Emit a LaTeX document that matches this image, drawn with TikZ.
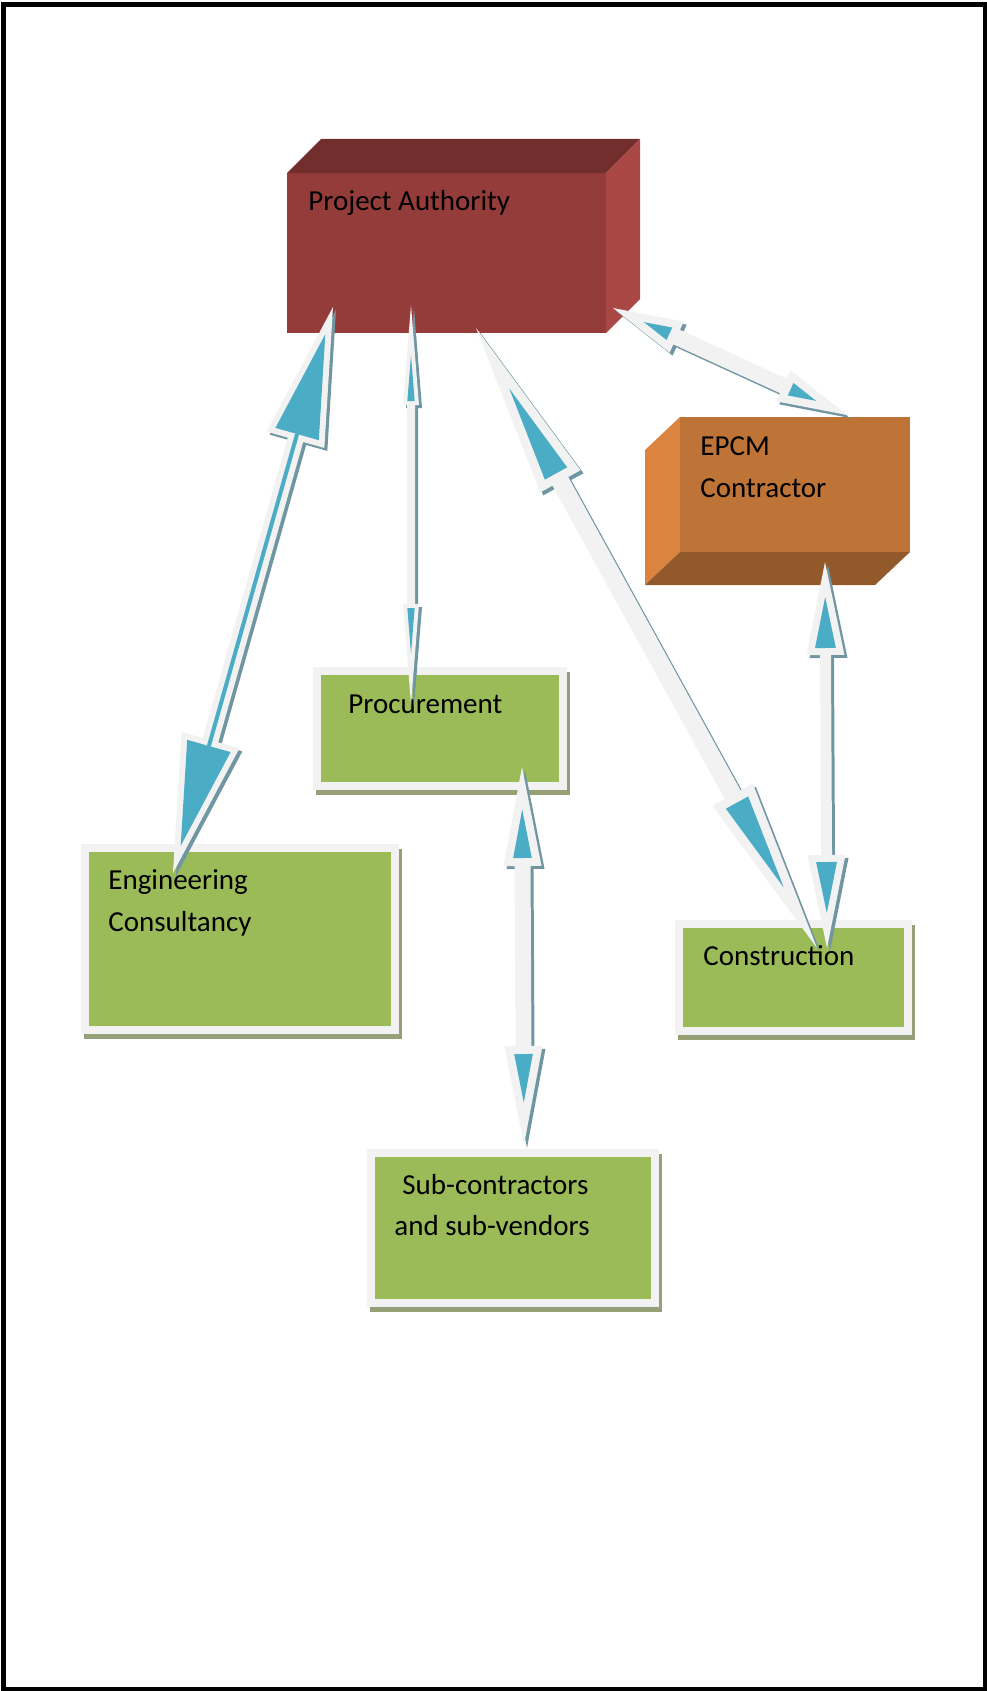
\documentclass[tikz,border=0pt]{standalone}
\usepackage{fontspec}
\setmainfont{Carlito}
\usetikzlibrary{calc}

\definecolor{paFront}{RGB}{148,60,58}
\definecolor{paTop}{RGB}{114,46,45}
\definecolor{paSide}{RGB}{168,71,68}
\definecolor{epFront}{RGB}{190,115,55}
\definecolor{epSide}{RGB}{218,132,63}
\definecolor{epBottom}{RGB}{146,90,42}
\definecolor{boxgreen}{RGB}{155,187,89}
\definecolor{rimgray}{RGB}{242,242,242}
\definecolor{boxshade}{RGB}{150,160,118}
\definecolor{arrowblue}{RGB}{75,172,198}
\definecolor{arrowshade}{RGB}{112,150,162}

% double block arrow: tips #1 and #2, head length #3, head width #4,
% shaft width #5, rim #6 (all in px, 1px = 0.5pt)
\newcommand{\blockarrow}[6]{%
  \pgfmathsetmacro{\hl}{#3/2}
  \pgfmathsetmacro{\hw}{#4/4}
  \pgfmathsetmacro{\sw}{#5/4}
  \pgfmathsetmacro{\tip}{(#6/2)/sin(atan((#4/2)/#3))}
  \pgfmathsetmacro{\bl}{(#3-#6)/2}
  \pgfmathsetmacro{\iw}{(\bl-\tip)*#4/(2*#3)}
  \pgfmathsetmacro{\lw}{(#5-2*#6)/2}
  \coordinate (h1) at ($(#1)!\hl pt!(#2)$);
  \coordinate (h2) at ($(#2)!\hl pt!(#1)$);
  \coordinate (l1) at ($(h1)!\hw pt!90:(#2)$);
  \coordinate (r1) at ($(h1)!\hw pt!-90:(#2)$);
  \coordinate (sl1) at ($(h1)!\sw pt!90:(#2)$);
  \coordinate (sr1) at ($(h1)!\sw pt!-90:(#2)$);
  \coordinate (l2) at ($(h2)!\hw pt!-90:(#1)$);
  \coordinate (r2) at ($(h2)!\hw pt!90:(#1)$);
  \coordinate (sl2) at ($(h2)!\sw pt!-90:(#1)$);
  \coordinate (sr2) at ($(h2)!\sw pt!90:(#1)$);
  \fill[arrowshade, transform canvas={shift={(1.5pt,-1.5pt)}}] (#1) -- (l1) -- (sl1) -- (sl2) -- (l2) -- (#2)
     -- (r2) -- (sr2) -- (sr1) -- (r1) -- cycle;
  \fill[rimgray] (#1) -- (l1) -- (sl1) -- (sl2) -- (l2) -- (#2)
     -- (r2) -- (sr2) -- (sr1) -- (r1) -- cycle;
  \coordinate (i1) at ($(#1)!\tip pt!(#2)$);
  \coordinate (i2) at ($(#2)!\tip pt!(#1)$);
  \coordinate (b1) at ($(#1)!\bl pt!(#2)$);
  \coordinate (b2) at ($(#2)!\bl pt!(#1)$);
  \fill[arrowblue] (i1) -- ($(b1)!\iw pt!90:(#2)$) -- ($(b1)!\iw pt!-90:(#2)$) -- cycle;
  \fill[arrowblue] (i2) -- ($(b2)!\iw pt!90:(#1)$) -- ($(b2)!\iw pt!-90:(#1)$) -- cycle;
  \ifdim\lw pt>0pt \draw[arrowblue, line width=\lw pt] (b1) -- (b2);\fi
}

\begin{document}
\begin{tikzpicture}[x=0.5pt, y=-0.5pt,
  cube/.style={rectangle, inner sep=0pt, outer sep=0pt, draw=none},
  greenbox/.style={rectangle, fill=boxgreen, draw=rimgray, line width=4pt, inner sep=0pt, outer sep=0pt,
    preaction={fill=boxshade, draw=boxshade, line width=4pt, transform canvas={shift={(1.5pt,-2.5pt)}}}},
  lbl/.style={anchor=base west, inner sep=0pt, align=left, font=\fontsize{14.5pt}{20.75pt}\selectfont}]
	\useasboundingbox (0,0) rectangle (986,1691);
	\draw[line width=2.5pt] (3,4.5) rectangle (985.5,1689.5);

	% project authority
	\node[cube, fill=paFront, minimum width=159.5pt, minimum height=80pt] (pa) at (446.5,253) {};
	\fill[paTop] (pa.north west) -- ++(34,-34) -- ($(pa.north east)+(34,-34)$) -- (pa.north east) -- cycle;
	\fill[paSide] (pa.north east) -- ++(34,-34) -- ($(pa.south east)+(34,-34)$) -- (pa.south east) -- cycle;
	\node[lbl] (pa-txt) at (308,210) {Project Authority};

	% epcm contractor
	\node[cube, fill=epFront, minimum width=115pt, minimum height=67.5pt] (epcm) at (795,484.5) {};
	\fill[epSide] (epcm.north west) -- ++(-35,33) -- ($(epcm.south west)+(-35,33)$) -- (epcm.south west) -- cycle;
	\fill[epBottom] (epcm.south west) -- ++(-35,33) -- ($(epcm.south east)+(-35,33)$) -- (epcm.south east) -- cycle;
	\node[lbl] (epcm-txt) at (700,497) {EPCM\\Contractor};

	% green boxes
	\node[greenbox, minimum width=123pt, minimum height=57.5pt] (proc) at (440,728.5) {};
	\node[lbl] (proc-txt) at (348,713) {Procurement};
	\node[greenbox, minimum width=155pt, minimum height=91pt] (eng) at (240,939) {};
	\node[lbl] (eng-txt) at (108,931) {Engineering\\Consultancy};
	\node[greenbox, minimum width=114.5pt, minimum height=53.5pt] (cons) at (793.5,977.5) {};
	\node[lbl] (cons-txt) at (703,965) {Construction};
	\node[greenbox, minimum width=142pt, minimum height=75pt] (sub) at (513,1228) {};
	\node[lbl] (sub-txt) at (402,1194) {Sub-contractors};
	\node[lbl] (sub-txt2) at (394,1235) {and sub-vendors};

	% arrow ends
	\coordinate (pa-eng) at (333,307);   \coordinate (eng-pa) at (173,873);
	\coordinate (pa-proc) at (411,305);  \coordinate (proc-pa) at (411,704);
	\coordinate (pa-cons) at (476,328);  \coordinate (cons-pa) at (817,948);
	\coordinate (pa-epcm) at (613,308);  \coordinate (epcm-pa) at (847,415);
	\coordinate (epcm-cons) at (825,562); \coordinate (cons-epcm) at (827,948);
	\coordinate (proc-sub) at (522,767); \coordinate (sub-proc) at (524,1145);

	\blockarrow{pa-eng}{eng-pa}{138}{60}{16}{6}
	\blockarrow{pa-proc}{proc-pa}{100}{16}{8}{4}
	\blockarrow{pa-cons}{cons-pa}{175}{46}{18}{9}
	\blockarrow{pa-epcm}{epcm-pa}{70}{34}{16}{8}
	\blockarrow{epcm-cons}{cons-epcm}{93}{38}{11}{7}
	\blockarrow{proc-sub}{sub-proc}{99}{38}{16}{8}
\end{tikzpicture}
\end{document}
